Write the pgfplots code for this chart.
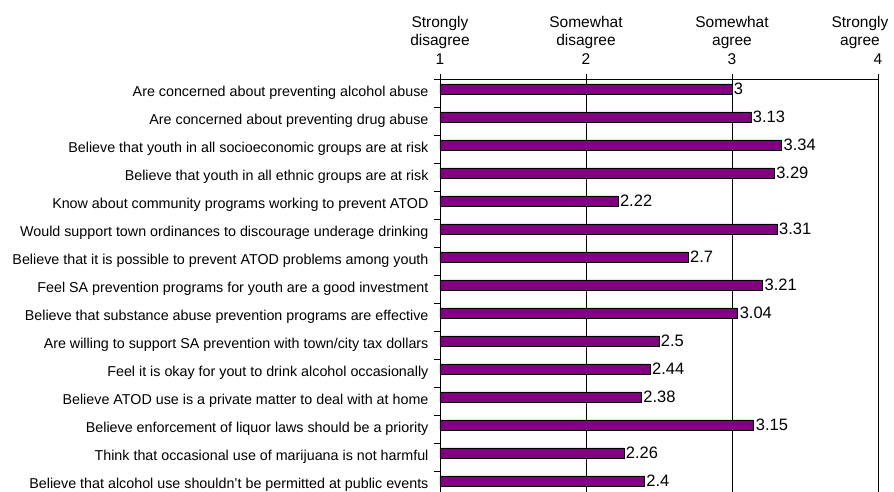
\documentclass[border=0pt]{standalone}
\usepackage{pgfplots}
\pgfplotsset{compat=1.18}
\usepackage{fontspec}
\setmainfont{Liberation Sans}
\definecolor{barpurple}{HTML}{800080}
\begin{document}
\begin{tikzpicture}
\begin{axis}[
  scale only axis, width=438pt, height=413pt,
  xbar, bar width=10pt, bar shift=4pt,
  xmin=1, xmax=4, ymin=-0.5, ymax=14.25, y dir=reverse,
  axis x line*=top, axis y line*=left,
  axis line style={black, line width=0.9pt},
  xtick={1,2,3,4},
  xticklabels={{Strongly\\disagree\\1},{Somewhat\\disagree\\2},{Somewhat\\agree\\3},{Strongly\rule{36pt}{0pt}\\agree\rule{36pt}{0pt}\\4}},
  xticklabel style={align=center, font=\fontsize{15.5}{18.5}\selectfont, yshift=6pt},
  xmajorgrids, major grid style={black, line width=0.9pt},
  ytick={0,...,14},
  yticklabels={
    Are concerned about preventing alcohol abuse,
    Are concerned about preventing drug abuse,
    Believe that youth in all socioeconomic groups are at risk,
    Believe that youth in all ethnic groups are at risk,
    Know about community programs working to prevent ATOD,
    Would support town ordinances to discourage underage drinking,
    Believe that it is possible to prevent ATOD problems among youth,
    Feel SA prevention programs for youth are a good investment,
    Believe that substance abuse prevention programs are effective,
    Are willing to support SA prevention with town/city tax dollars,
    Feel it is okay for yout to drink alcohol occasionally,
    Believe ATOD use is a private matter to deal with at home,
    Believe enforcement of liquor laws should be a priority,
    Think that occasional use of marijuana is not harmful,
    Believe that alcohol use shouldn't be permitted at public events},
  yticklabel style={font=\fontsize{14.3}{16}\selectfont, xshift=-3pt},
  major y tick style={draw=none},
  minor ytick={-0.5,0.5,...,13.5},
  minor y tick style={black, line width=0.9pt},
  major x tick style={black, line width=0.9pt},
  tick align=outside, major tick length=5pt, minor tick length=6pt,
  point meta=explicit symbolic,
  nodes near coords,
  nodes near coords style={font=\fontsize{16.5}{18}\selectfont, anchor=west, inner sep=1.5pt, black},
]
\addplot[fill=barpurple, draw=black, line width=0.9pt] coordinates {
  (3,0) [3]
  (3.13,1) [3.13]
  (3.34,2) [3.34]
  (3.29,3) [3.29]
  (2.22,4) [2.22]
  (3.31,5) [3.31]
  (2.7,6) [2.7]
  (3.21,7) [3.21]
  (3.04,8) [3.04]
  (2.5,9) [2.5]
  (2.44,10) [2.44]
  (2.38,11) [2.38]
  (3.15,12) [3.15]
  (2.26,13) [2.26]
  (2.4,14) [2.4]
};
\coordinate (tl) at (axis cs:1,-0.5);
\end{axis}
\pgfresetboundingbox
\path[use as bounding box] ([shift={(-440pt,79pt)}]tl) rectangle ([shift={(454pt,-413pt)}]tl);
\end{tikzpicture}
\end{document}
